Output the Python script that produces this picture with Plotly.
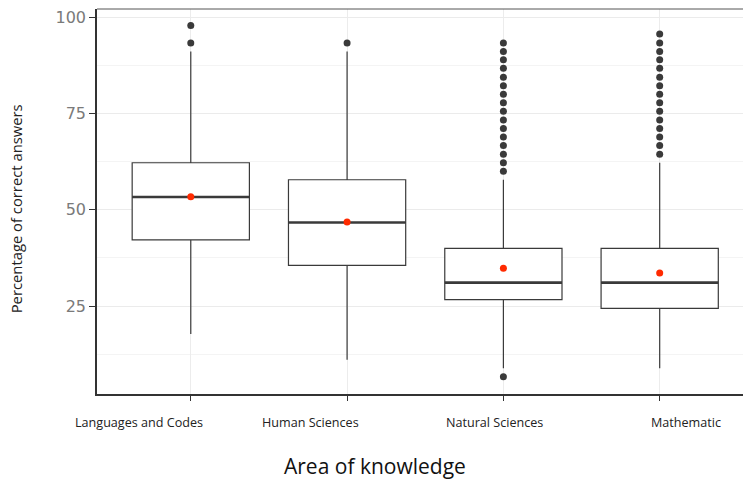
import plotly.graph_objects as go

# Share of correct answers (%) per area of knowledge, 45-item tests
areas = ["Languages and Codes", "Human Sciences", "Natural Sciences", "Mathematic"]
q1 = [42.2, 35.6, 26.7, 24.4]
median = [53.3, 46.7, 31.1, 31.1]
q3 = [62.2, 57.8, 40.0, 40.0]
lower_whisker = [17.8, 11.1, 8.9, 8.9]
upper_whisker = [91.1, 91.1, 57.8, 62.2]
means = [53.4, 46.8, 34.8, 33.6]
outliers = [
    [93.3, 97.8],
    [93.3],
    [6.7, 60.0, 62.2, 64.4, 66.7, 68.9, 71.1, 73.3, 75.6, 77.8, 80.0,
     82.2, 84.4, 86.7, 88.9, 91.1, 93.3],
    [64.4, 66.7, 68.9, 71.1, 73.3, 75.6, 77.8, 80.0, 82.2, 84.4, 86.7,
     88.9, 91.1, 93.3, 95.6],
]

pos = list(range(len(areas)))
box_w = 0.75
dark = "#3a3a3a"

fig = go.Figure()

fig.add_trace(go.Box(
    x=pos, q1=q1, median=median, q3=q3,
    lowerfence=lower_whisker, upperfence=upper_whisker,
    width=box_w, whiskerwidth=0, boxpoints=False,
    line=dict(color=dark, width=1.2), fillcolor="white",
    showlegend=False, hoverinfo="skip",
))

# thicker median bars
for i, m in enumerate(median):
    fig.add_trace(go.Scatter(
        x=[pos[i] - box_w / 2, pos[i] + box_w / 2], y=[m, m],
        mode="lines", line=dict(color=dark, width=2.6),
        showlegend=False, hoverinfo="skip",
    ))

# outlying students
ox, oy = [], []
for i, vals in enumerate(outliers):
    ox += [pos[i]] * len(vals)
    oy += vals
fig.add_trace(go.Scatter(
    x=ox, y=oy, mode="markers",
    marker=dict(color=dark, size=7), showlegend=False, hoverinfo="skip",
))

# mean of each area
fig.add_trace(go.Scatter(
    x=pos, y=means, mode="markers",
    marker=dict(color="#ff2a00", size=7), showlegend=False, hoverinfo="skip",
))

# category labels below the axis
label_x = [0.065, 0.33, 0.6146, 0.912]
for name, lx in zip(areas, label_x):
    fig.add_annotation(
        text=name, x=lx, y=-0.073, xref="paper", yref="paper",
        showarrow=False, xanchor="center", yanchor="middle",
        font=dict(family="Open Sans", size=12.6, color="#222222"),
    )

fig.add_annotation(
    text="Area of knowledge", x=0.43, y=-0.188, xref="paper", yref="paper",
    showarrow=False, xanchor="center", yanchor="middle",
    font=dict(family="Open Sans", size=21, color="#111111"),
)
fig.add_annotation(
    text="Percentage of correct answers", x=-0.124, y=0.482,
    xref="paper", yref="paper", textangle=-90,
    showarrow=False, xanchor="center", yanchor="middle",
    font=dict(family="Open Sans", size=14.8, color="#222222"),
)

# top border of the panel
fig.add_shape(type="line", xref="paper", yref="paper", x0=0, x1=1, y0=1, y1=1,
              line=dict(color="#555555", width=1))

fig.update_xaxes(
    range=[-0.6, 3.533], tickvals=pos, ticktext=[""] * 4,
    showgrid=True, gridcolor="#ececec", gridwidth=1,
    showline=True, linecolor="#333333", linewidth=2,
    ticks="outside", ticklen=5, tickcolor="#333333",
    zeroline=False,
)
fig.update_yaxes(
    range=[2.2, 102.1], tickvals=[25, 50, 75, 100],
    showgrid=True, gridcolor="#ebebeb", gridwidth=1,
    minor=dict(tickvals=[12.5, 37.5, 62.5, 87.5], showgrid=True,
               gridcolor="#f4f4f4", gridwidth=1),
    showline=True, linecolor="#333333", linewidth=1.5,
    ticks="outside", ticklen=6, tickcolor="#333333",
    tickfont=dict(family="DejaVu Sans", size=16, color="#7a7a7a"),
    zeroline=False,
)

fig.update_layout(
    width=743, height=482,
    margin=dict(l=97, r=0, t=9, b=88),
    plot_bgcolor="white", paper_bgcolor="white",
)

fig.write_html("out.html")
